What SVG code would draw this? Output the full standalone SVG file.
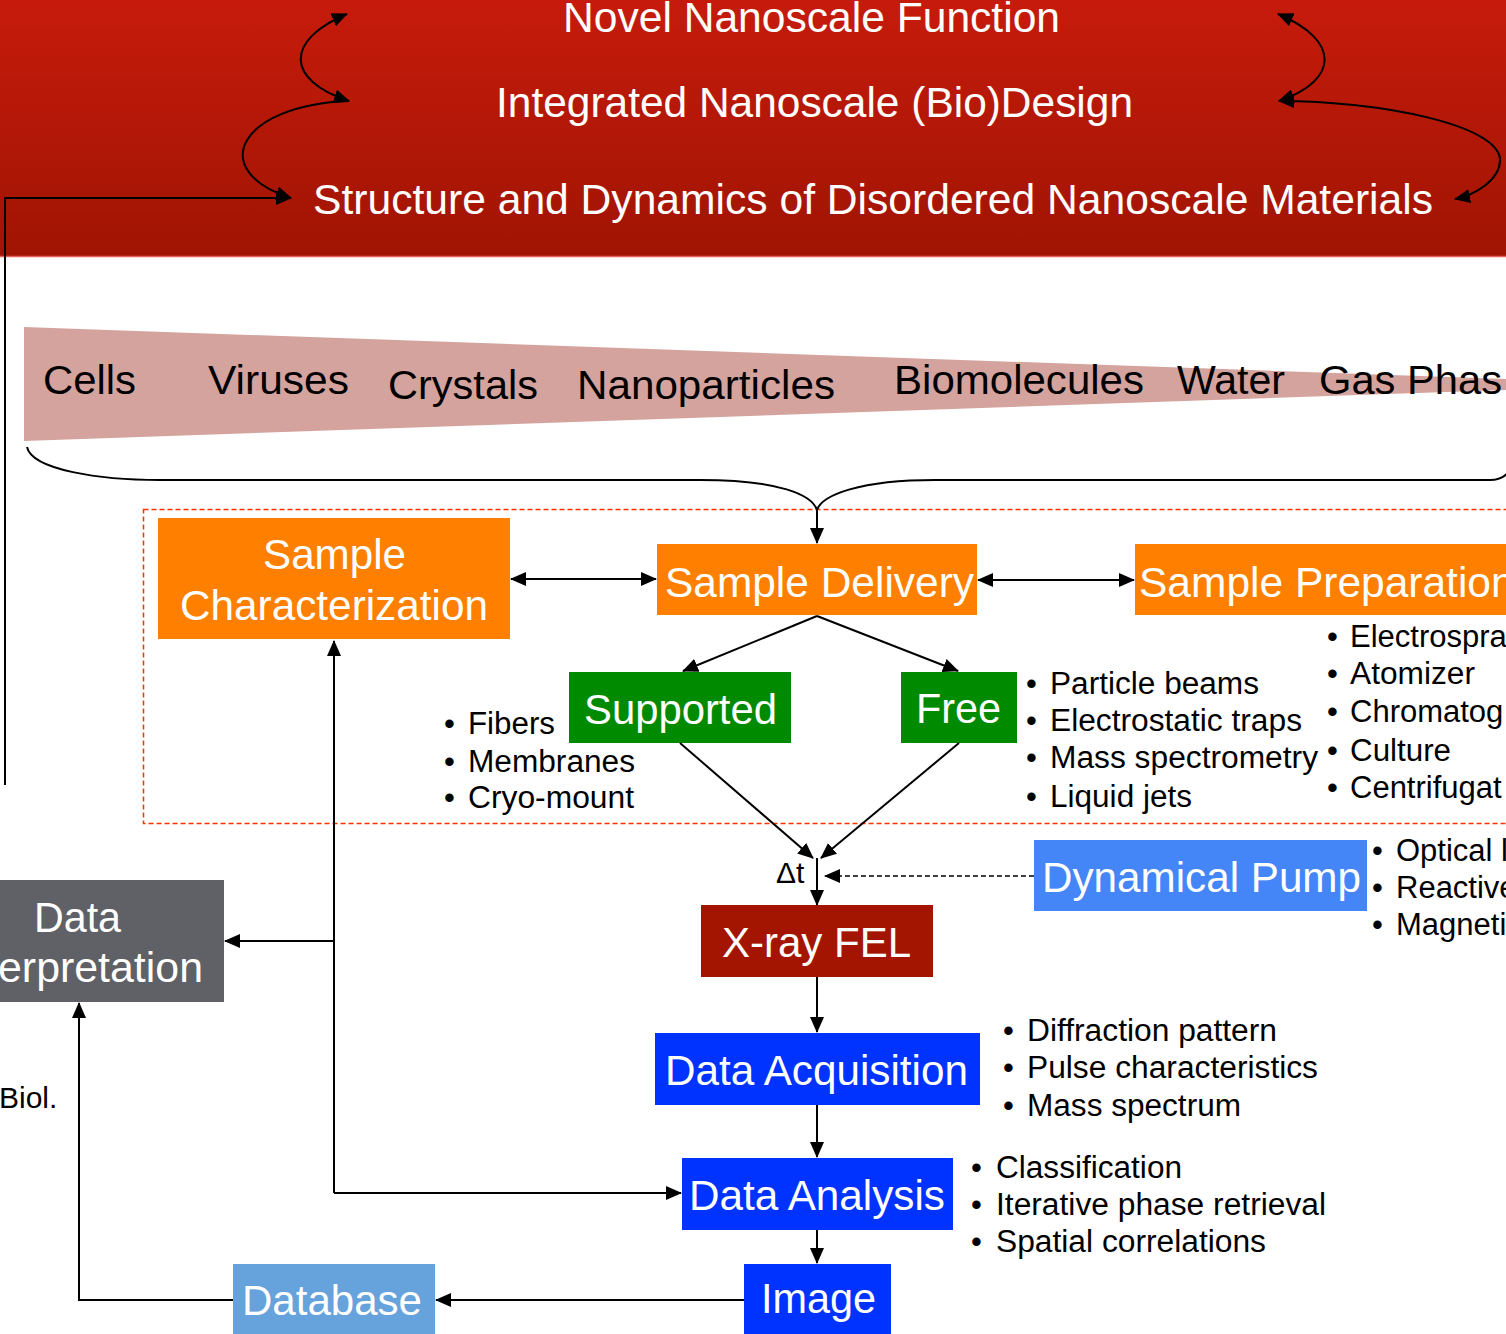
<svg xmlns="http://www.w3.org/2000/svg" width="1506" height="1334" viewBox="0 0 1506 1334">
<defs>
<linearGradient id="hdr" x1="0" y1="0" x2="0" y2="1">
<stop offset="0" stop-color="#c61b0c"/>
<stop offset="1" stop-color="#a01402"/>
</linearGradient>
<marker id="ah" viewBox="0 0 16 14" markerWidth="16" markerHeight="14" refX="15" refY="7" orient="auto-start-reverse" markerUnits="userSpaceOnUse">
<path d="M0,0 L16,7 L0,14 z" fill="#000"/>
</marker>
</defs>
<style>
text{font-family:"Liberation Sans",Arial,sans-serif}
.h{font-size:42px;fill:#fff;text-anchor:middle}
.w{font-size:41px;fill:#000}
.b{font-size:42px;fill:#fff;text-anchor:middle}
.l{font-size:31px;fill:#000}
.c{fill:none;stroke:#000;stroke-width:2}
.a{marker-end:url(#ah)}
.s{marker-start:url(#ah)}
</style>
<g id="header">
<rect x="0" y="0" width="1506" height="256" fill="url(#hdr)"/>
<line x1="0" y1="256.5" x2="1506" y2="256.5" stroke="#e8605a" stroke-width="1.5"/>
<text class="h" x="811.5" y="32" textLength="497" lengthAdjust="spacingAndGlyphs">Novel Nanoscale Function</text>
<text class="h" x="814.5" y="117" textLength="637" lengthAdjust="spacingAndGlyphs">Integrated Nanoscale (Bio)Design</text>
<text class="h" x="873" y="214" textLength="1120" lengthAdjust="spacingAndGlyphs">Structure and Dynamics of Disordered Nanoscale Materials</text>
</g>
<g id="scale">
<polygon points="24,327 1506,379 1506,390 24,441" fill="#d4a39e"/>
<text class="w" x="43" y="394" textLength="93" lengthAdjust="spacingAndGlyphs">Cells</text>
<text class="w" x="208" y="394" textLength="141" lengthAdjust="spacingAndGlyphs">Viruses</text>
<text class="w" x="388" y="399" textLength="150" lengthAdjust="spacingAndGlyphs">Crystals</text>
<text class="w" x="577" y="399" textLength="258" lengthAdjust="spacingAndGlyphs">Nanoparticles</text>
<text class="w" x="894" y="394" textLength="250" lengthAdjust="spacingAndGlyphs">Biomolecules</text>
<text class="w" x="1177" y="394" textLength="108" lengthAdjust="spacingAndGlyphs">Water</text>
<text class="w" x="1319" y="394" textLength="183" lengthAdjust="spacingAndGlyphs">Gas Phas</text>
</g>
<rect id="delivery-region" x="143.5" y="509.5" width="1400" height="314" fill="none" stroke="#ff3300" stroke-width="1.5" stroke-dasharray="5,3"/>
<g id="sample-characterization">
<rect x="158" y="518" width="352" height="121" fill="#ff7f00"/>
<text class="b" x="334.5" y="569" textLength="143" lengthAdjust="spacingAndGlyphs">Sample</text>
<text class="b" x="334" y="620" textLength="308" lengthAdjust="spacingAndGlyphs">Characterization</text>
</g>
<g id="sample-delivery">
<rect x="657" y="544" width="320" height="71" fill="#ff7f00"/>
<text class="b" x="819.5" y="597" textLength="309" lengthAdjust="spacingAndGlyphs">Sample Delivery</text>
</g>
<g id="sample-preparation">
<rect x="1135" y="544" width="380" height="71" fill="#ff7f00"/>
<text x="1139" y="597" style="font-size:42.5px;fill:#fff">Sample Preparation</text>
<text class="l" x="1327" y="647">•</text>
<text class="l" x="1350" y="647">Electrospray</text>
<text class="l" x="1327" y="684">•</text>
<text class="l" x="1350" y="684" textLength="125" lengthAdjust="spacingAndGlyphs">Atomizer</text>
<text class="l" x="1327" y="722">•</text>
<text class="l" x="1350" y="722">Chromatog</text>
<text class="l" x="1327" y="761">•</text>
<text class="l" x="1350" y="761" textLength="101" lengthAdjust="spacingAndGlyphs">Culture</text>
<text class="l" x="1327" y="798">•</text>
<text class="l" x="1350" y="798">Centrifugat</text>
</g>
<g id="supported">
<rect x="569" y="672" width="222" height="71" fill="#008a00"/>
<text class="b" x="680.5" y="724" textLength="193" lengthAdjust="spacingAndGlyphs">Supported</text>
<text class="l" x="444" y="734">•</text>
<text class="l" x="468" y="734" textLength="87" lengthAdjust="spacingAndGlyphs">Fibers</text>
<text class="l" x="444" y="772">•</text>
<text class="l" x="468" y="772" textLength="167" lengthAdjust="spacingAndGlyphs">Membranes</text>
<text class="l" x="444" y="808">•</text>
<text class="l" x="468" y="808" textLength="166" lengthAdjust="spacingAndGlyphs">Cryo-mount</text>
</g>
<g id="free">
<rect x="901" y="672" width="116" height="71" fill="#008a00"/>
<text class="b" x="958.5" y="723" textLength="85" lengthAdjust="spacingAndGlyphs">Free</text>
<text class="l" x="1026" y="694">•</text>
<text class="l" x="1050" y="694" textLength="209" lengthAdjust="spacingAndGlyphs">Particle beams</text>
<text class="l" x="1026" y="731">•</text>
<text class="l" x="1050" y="731" textLength="252" lengthAdjust="spacingAndGlyphs">Electrostatic traps</text>
<text class="l" x="1026" y="768">•</text>
<text class="l" x="1050" y="768" textLength="268" lengthAdjust="spacingAndGlyphs">Mass spectrometry</text>
<text class="l" x="1026" y="807">•</text>
<text class="l" x="1050" y="807" textLength="142" lengthAdjust="spacingAndGlyphs">Liquid jets</text>
</g>
<g id="dynamical-pump">
<rect x="1034" y="840" width="333" height="71" fill="#4485f8"/>
<text class="b" x="1201.5" y="892" textLength="319" lengthAdjust="spacingAndGlyphs">Dynamical Pump</text>
<text class="l" x="1372" y="861">•</text>
<text class="l" x="1396" y="861">Optical l</text>
<text class="l" x="1372" y="898">•</text>
<text class="l" x="1396" y="898">Reactive</text>
<text class="l" x="1372" y="935">•</text>
<text class="l" x="1396" y="935">Magneti</text>
</g>
<g id="delta-t">
<text x="776" y="883" style="font-size:30px;fill:#000">Δt</text>
</g>
<g id="xray-fel">
<rect x="701" y="905" width="232" height="72" fill="#a31500"/>
<text class="b" x="816.5" y="957" textLength="189" lengthAdjust="spacingAndGlyphs">X-ray FEL</text>
</g>
<g id="data-acquisition">
<rect x="655" y="1033" width="325" height="72" fill="#0033ff"/>
<text class="b" x="816.5" y="1085" textLength="303" lengthAdjust="spacingAndGlyphs">Data Acquisition</text>
<text class="l" x="1003" y="1041">•</text>
<text class="l" x="1027" y="1041" textLength="250" lengthAdjust="spacingAndGlyphs">Diffraction pattern</text>
<text class="l" x="1003" y="1078">•</text>
<text class="l" x="1027" y="1078" textLength="291" lengthAdjust="spacingAndGlyphs">Pulse characteristics</text>
<text class="l" x="1003" y="1116">•</text>
<text class="l" x="1027" y="1116" textLength="214" lengthAdjust="spacingAndGlyphs">Mass spectrum</text>
</g>
<g id="data-analysis">
<rect x="682" y="1158" width="271" height="72" fill="#0033ff"/>
<text class="b" x="817" y="1210" textLength="256" lengthAdjust="spacingAndGlyphs">Data Analysis</text>
<text class="l" x="971" y="1178">•</text>
<text class="l" x="996" y="1178" textLength="186" lengthAdjust="spacingAndGlyphs">Classification</text>
<text class="l" x="971" y="1215">•</text>
<text class="l" x="996" y="1215" textLength="330" lengthAdjust="spacingAndGlyphs">Iterative phase retrieval</text>
<text class="l" x="971" y="1252">•</text>
<text class="l" x="996" y="1252" textLength="270" lengthAdjust="spacingAndGlyphs">Spatial correlations</text>
</g>
<g id="image">
<rect x="744" y="1264" width="147" height="70" fill="#0033ff"/>
<text class="b" x="818.5" y="1313" textLength="115" lengthAdjust="spacingAndGlyphs">Image</text>
</g>
<g id="database">
<rect x="233" y="1264" width="202" height="70" fill="#66a2dc"/>
<text class="b" x="332" y="1315" textLength="180" lengthAdjust="spacingAndGlyphs">Database</text>
</g>
<g id="data-interpretation">
<rect x="-50" y="880" width="274" height="122" fill="#606166"/>
<text class="b" x="77.5" y="932" textLength="87" lengthAdjust="spacingAndGlyphs">Data</text>
<text x="-2" y="982" style="font-size:42px;fill:#fff" textLength="205" lengthAdjust="spacingAndGlyphs">erpretation</text>
<text x="-1" y="1108" style="font-size:30px;fill:#000">Biol.</text>
</g>
<g id="connectors">
<path class="c a s" d="M347,14 C285,40 285,80 349,101"/>
<path class="c a" d="M349,101 C240,105 205,170 291,198"/>
<path class="c a" d="M5,785 V198 H291"/>
<path class="c a s" d="M1278,14 C1340,40 1340,80 1279,101"/>
<path class="c a s" d="M1279,101 C1380,101 1500,125 1500,160 C1500,180 1475,195 1455,199"/>
<path class="c" d="M27,447 C32,470 100,480 160,480 H700 C780,480 812,495 817,510"/>
<path class="c" d="M817,510 C822,495 860,480 935,480 H1490 C1500,480 1506,476 1510,470"/>
<path class="c a" d="M817,510 V543"/>
<path class="c a s" d="M511,579 H656"/>
<path class="c a s" d="M978,580 H1134"/>
<path class="c a" d="M817,616 L683,671"/>
<path class="c a" d="M817,616 L958,671"/>
<path class="c a" d="M680,743 L813,858"/>
<path class="c a" d="M959,743 L821,858"/>
<path class="c a" d="M817,858 V905"/>
<path class="a" d="M1034,876 H825" fill="none" stroke="#000" stroke-width="1.5" stroke-dasharray="5,3"/>
<path class="c a" d="M817,977 V1032"/>
<path class="c a" d="M817,1105 V1157"/>
<path class="c a" d="M817,1230 V1263"/>
<path class="c a" d="M744,1300 H436"/>
<path class="c a" d="M233,1300 H79 V1003"/>
<path class="c a" d="M334,1193 V641"/>
<path class="c a" d="M334,1193 H681"/>
<path class="c a" d="M334,941 H225"/>
</g>
</svg>
